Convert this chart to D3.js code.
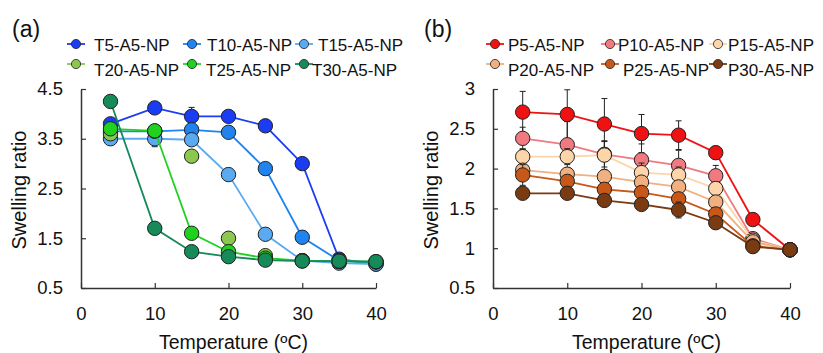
<!DOCTYPE html>
<html>
<head>
<meta charset="utf-8">
<script src="https://cdn.jsdelivr.net/npm/d3@7"></script>
<style>
  body { margin: 0; background: #fff; }
  text { font-family: "Liberation Sans", Arial, sans-serif; fill: #111; }
</style>
</head>
<body>
<svg id="chart" width="823" height="353"></svg>
<script>
// temperatures measured (same for both panels)
const temps = [4, 10, 15, 20, 25, 30, 35, 40];

// panel (a) series
const tNames = ["T5-A5-NP", "T10-A5-NP", "T15-A5-NP", "T20-A5-NP", "T25-A5-NP", "T30-A5-NP"];
const tColors = ["#1a3cf2", "#1f84ef", "#5aaaf2", "#8cc850", "#1fd21f", "#168a58"];
const tValues = [
  [3.80, 4.12, 3.95, 3.95, 3.76, 3.00, 1.08, 0.98],
  [3.65, 3.65, 3.68, 3.63, 2.90, 1.52, 1.05, 1.00],
  [3.50, 3.50, 3.48, 2.78, 1.58, 1.05, 1.00, 0.98],
  [3.60, 3.65, 3.15, 1.50, 1.15, 1.05, 1.03, 1.02],
  [3.70, 3.66, 1.60, 1.23, 1.10, 1.05, 1.04, 1.03],
  [4.25, 1.70, 1.23, 1.13, 1.06, 1.04, 1.04, 1.03]
];
const tErrors = [
  [0.05, 0.11, 0.18, 0.05, 0.06, 0.05, 0.03, 0.03],
  [0.05, 0.05, 0.05, 0.05, 0.05, 0.04, 0.03, 0.03],
  [0.05, 0.16, 0.05, 0.05, 0.04, 0.03, 0.03, 0.03],
  [0.05, 0.05, 0.06, 0.04, 0.04, 0.03, 0.03, 0.03],
  [0.05, 0.05, 0.05, 0.04, 0.04, 0.03, 0.03, 0.03],
  [0.05, 0.05, 0.10, 0.04, 0.03, 0.03, 0.03, 0.03]
];
// T20 is plotted as markers only in the plot area
const tShowLine = [true, true, true, false, true, true];
const tTicks = [0.5, 1.5, 2.5, 3.5, 4.5];

// panel (b) series
const pNames = ["P5-A5-NP", "P10-A5-NP", "P15-A5-NP", "P20-A5-NP", "P25-A5-NP", "P30-A5-NP"];
const pColors = ["#f01212", "#f07a80", "#fdd5a8", "#f0b080", "#c8581a", "#7a3a12"];
const pValues = [
  [2.71, 2.68, 2.56, 2.44, 2.42, 2.20, 1.36, 0.98],
  [2.38, 2.30, 2.18, 2.11, 2.04, 1.91, 1.12, 0.98],
  [2.15, 2.15, 2.17, 1.95, 1.92, 1.75, 1.10, 0.98],
  [1.98, 1.93, 1.90, 1.83, 1.77, 1.58, 1.08, 0.98],
  [1.92, 1.84, 1.74, 1.70, 1.62, 1.43, 1.03, 0.98],
  [1.69, 1.69, 1.60, 1.55, 1.48, 1.32, 1.02, 0.98]
];
const pErrors = [
  [0.26, 0.31, 0.32, 0.24, 0.18, 0.08, 0.03, 0.02],
  [0.14, 0.29, 0.16, 0.20, 0.19, 0.13, 0.03, 0.02],
  [0.10, 0.10, 0.18, 0.12, 0.10, 0.06, 0.03, 0.02],
  [0.06, 0.06, 0.06, 0.06, 0.06, 0.05, 0.03, 0.02],
  [0.13, 0.06, 0.05, 0.05, 0.06, 0.05, 0.03, 0.02],
  [0.04, 0.05, 0.04, 0.04, 0.10, 0.04, 0.03, 0.02]
];
const pShowLine = [true, true, true, true, true, true];
const pTicks = [0.5, 1, 1.5, 2, 2.5, 3];
const xTicks = [0, 10, 20, 30, 40];

const svg = d3.select("#chart");

function draw_panel(opts) {
  const g = svg.append("g");

  const x = d3.scaleLinear().domain([0, 40]).range([opts.left, opts.right]);
  const y = d3.scaleLinear().domain(opts.yDomain).range([288, 89]);

  // panel letter
  g.append("text")
    .attr("x", opts.left - 69)
    .attr("y", 37)
    .style("font-size", "23px")
    .text(opts.letter);

  // axes, ticks point inward
  const yAxis = g.append("g")
    .attr("transform", `translate(${opts.left},0)`)
    .call(d3.axisLeft(y).tickValues(opts.yTicks).tickFormat(d => String(d))
      .tickSizeInner(-5).tickSizeOuter(0).tickPadding(18));
  const xAxis = g.append("g")
    .attr("transform", `translate(0,288)`)
    .call(d3.axisBottom(x).tickValues(xTicks)
      .tickSizeInner(-5).tickSizeOuter(0).tickPadding(19));
  [yAxis, xAxis].forEach(a => {
    a.select(".domain").attr("stroke", "#333").attr("stroke-width", 1.5);
    a.selectAll(".tick line").attr("stroke", "#333").attr("stroke-width", 1.2);
    a.selectAll("text").style("font-size", "18.5px").attr("fill", "#111")
      .style("font-family", "Liberation Sans, Arial, sans-serif");
  });

  // axis titles
  g.append("text")
    .attr("text-anchor", "middle")
    .attr("transform", `translate(${opts.left - 55}, 190) rotate(-90)`)
    .style("font-size", "20px")
    .text("Swelling ratio");
  g.append("text")
    .attr("text-anchor", "middle")
    .attr("x", (opts.left + opts.right) / 2 + 5)
    .attr("y", 349)
    .style("font-size", "19.5px")
    .text("Temperature (ºC)");

  const line = d3.line().x((d, i) => x(temps[i])).y(d => y(d));

  opts.values.forEach((vals, s) => {
    const sg = g.append("g");
    if (opts.showLine[s]) {
      sg.append("path")
        .datum(vals)
        .attr("fill", "none")
        .attr("stroke", opts.colors[s])
        .attr("stroke-width", 1.8)
        .attr("d", line);
    }

    // error bars
    const errs = sg.selectAll(".err")
      .data(vals.map((v, i) => ({t: temps[i], v: v, e: opts.errors[s][i]})))
      .enter().append("g");
    errs.append("line")
      .attr("x1", d => x(d.t)).attr("x2", d => x(d.t))
      .attr("y1", d => y(d.v - d.e)).attr("y2", d => y(d.v + d.e))
      .attr("stroke", "#222").attr("stroke-width", 1);
    errs.append("line")
      .attr("x1", d => x(d.t) - 3).attr("x2", d => x(d.t) + 3)
      .attr("y1", d => y(d.v + d.e)).attr("y2", d => y(d.v + d.e))
      .attr("stroke", "#222").attr("stroke-width", 1);
    errs.append("line")
      .attr("x1", d => x(d.t) - 3).attr("x2", d => x(d.t) + 3)
      .attr("y1", d => y(d.v - d.e)).attr("y2", d => y(d.v - d.e))
      .attr("stroke", "#222").attr("stroke-width", 1);

    sg.selectAll("circle")
      .data(vals)
      .enter().append("circle")
      .attr("cx", (d, i) => x(temps[i]))
      .attr("cy", d => y(d))
      .attr("r", 7.2)
      .attr("fill", opts.colors[s])
      .attr("stroke", "#222")
      .attr("stroke-width", 1);
  });

  // legend, 3 columns x 2 rows
  opts.names.forEach((name, s) => {
    const col = s % 3, row = Math.floor(s / 3);
    const mx = opts.legendX[row][col];
    const my = row === 0 ? 44 : 64;
    const lg = g.append("g");
    lg.append("line")
      .attr("x1", mx - 9).attr("x2", mx + 9)
      .attr("y1", my).attr("y2", my)
      .attr("stroke", opts.colors[s]).attr("stroke-width", 1.8);
    lg.append("circle")
      .attr("cx", mx).attr("cy", my).attr("r", 4.6)
      .attr("fill", opts.colors[s]).attr("stroke", "#222").attr("stroke-width", 0.8);
    lg.append("text")
      .attr("x", opts.legendTextX[row][col])
      .attr("y", row === 0 ? 51 : 76)
      .style("font-size", "17px")
      .text(name);
  });
}

draw_panel({
  letter: "(a)", left: 81, right: 376,
  yDomain: [0.5, 4.5], yTicks: tTicks,
  names: tNames, colors: tColors, values: tValues, errors: tErrors, showLine: tShowLine,
  legendX: [[76, 192, 304], [76, 192, 304]],
  legendTextX: [[94, 207, 318], [94, 206, 312]]
});

draw_panel({
  letter: "(b)", left: 493, right: 790,
  yDomain: [0.5, 3], yTicks: pTicks,
  names: pNames, colors: pColors, values: pValues, errors: pErrors, showLine: pShowLine,
  legendX: [[495, 610, 718], [495, 610, 718]],
  legendTextX: [[508, 618, 728], [508, 623, 728]]
});
</script>
</body>
</html>
